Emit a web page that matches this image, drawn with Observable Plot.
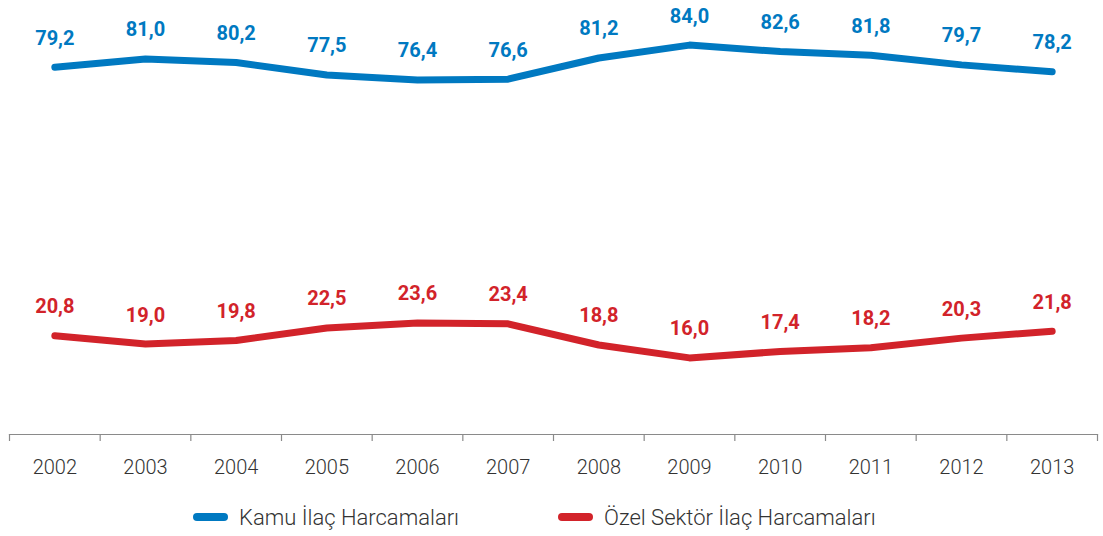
<!DOCTYPE html>
<html>
<head>
<meta charset="utf-8">
<script src="https://cdn.jsdelivr.net/npm/d3@7"></script>
<script src="https://cdn.jsdelivr.net/npm/@observablehq/plot@0.6"></script>
<style>
  body { margin: 0; background: #fff; font-family: Roboto, "DejaVu Sans", sans-serif; }
  #wrap { position: relative; width: 1103px; height: 536px; }
  .legend { position: absolute; top: 503px; left: 0; width: 1103px; height: 28px; font-size: 22px; color: #333; font-weight: 300; }
  .item { position: absolute; top: 0; display: flex; align-items: center; height: 28px; }
  .sw { width: 35px; height: 8px; border-radius: 4px; margin-right: 11px; }
</style>
</head>
<body>
<div id="wrap">
  <div id="chart"></div>
  <div class="legend">
    <div class="item" style="left:193px"><span class="sw" style="background:#0079c1"></span><span>Kamu İlaç Harcamaları</span></div>
    <div class="item" style="left:558px"><span class="sw" style="background:#d2232a"></span><span>Özel Sektör İlaç Harcamaları</span></div>
  </div>
</div>
<script>
const years = [2002, 2003, 2004, 2005, 2006, 2007, 2008, 2009, 2010, 2011, 2012, 2013];
const kamu = [79.2, 81.0, 80.2, 77.5, 76.4, 76.6, 81.2, 84.0, 82.6, 81.8, 79.7, 78.2];
const ozel = [20.8, 19.0, 19.8, 22.5, 23.6, 23.4, 18.8, 16.0, 17.4, 18.2, 20.3, 21.8];
const seriesNames = ["Kamu İlaç Harcamaları", "Özel Sektör İlaç Harcamaları"];
const seriesColors = ["#0079c1", "#d2232a"];

const data = [];
years.forEach((y, i) => data.push({year: y, value: kamu[i], series: seriesNames[0]}));
years.forEach((y, i) => data.push({year: y, value: ozel[i], series: seriesNames[1]}));
const boundaries = years.map(y => y - 0.5).concat([years[years.length - 1] + 0.5]);
const fmt = v => v.toFixed(1).replace(".", ",");

const chart = Plot.plot({
  width: 1103,
  height: 490,
  marginLeft: 9,
  marginRight: 6,
  marginTop: 17,
  marginBottom: 56,
  style: {fontFamily: "Roboto, sans-serif", background: "#fff"},
  x: {type: "linear", domain: [boundaries[0], boundaries[boundaries.length - 1]], axis: null},
  y: {domain: [-0.65, 90], axis: null},
  color: {domain: seriesNames, range: seriesColors},
  marks: [
    Plot.frame({anchor: "bottom", stroke: "#8a8a8a", strokeWidth: 1.2}),
    Plot.axisX({ticks: boundaries, tickSize: 7, tickFormat: () => "", stroke: "#8a8a8a", strokeWidth: 1.2, label: null}),
    Plot.axisX({ticks: years, tickSize: 0, tickPadding: 25, tickFormat: d => String(d), fontSize: 20, fill: "#333", fontWeight: 300, label: null}),
    Plot.line(data, {x: "year", y: "value", z: "series", stroke: "series", strokeWidth: 7, curve: "linear", strokeLinecap: "round", strokeLinejoin: "round"}),
    Plot.text(data, {x: "year", y: "value", text: d => fmt(d.value), fill: "series", dy: -29, fontSize: 20, fontWeight: "bold"})
  ]
});
document.getElementById("chart").appendChild(chart);
</script>
</body>
</html>
